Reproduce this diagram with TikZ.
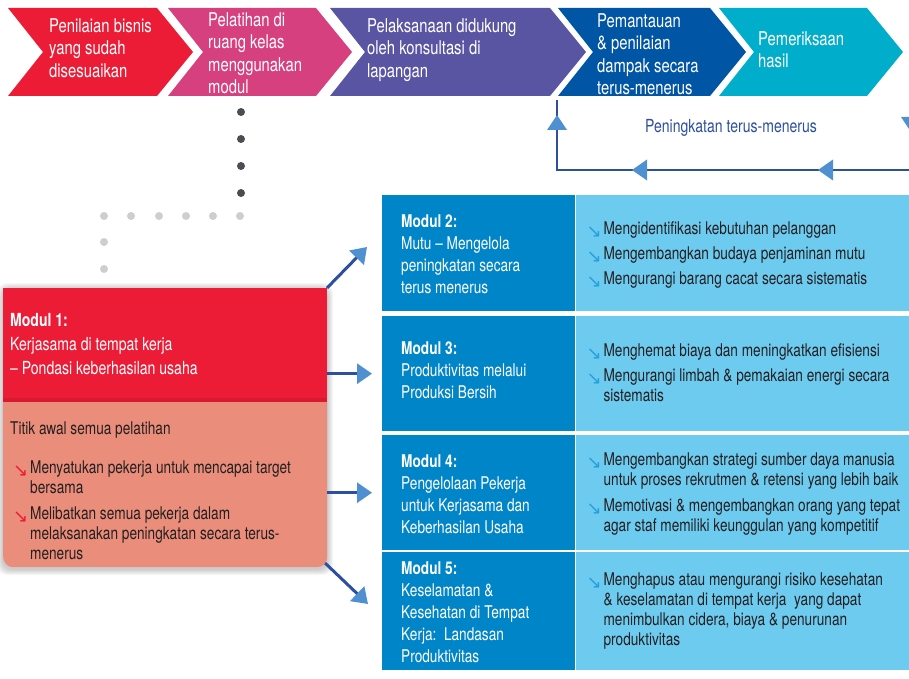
\documentclass[tikz,border=0pt]{standalone}
\usepackage{fontspec}
\setmainfont{TeX Gyre Heros}[FakeStretch=0.78]
\newfontfamily\arrowfont{DejaVu Sans}
\usepackage{tikz}
\usetikzlibrary{positioning, arrows.meta}

\definecolor{redA}{HTML}{ED1C36}
\definecolor{redshade}{HTML}{D71A31}
\definecolor{pinkB}{HTML}{D6407F}
\definecolor{purpleC}{HTML}{5A55A3}
\definecolor{navyD}{HTML}{0055A5}
\definecolor{tealE}{HTML}{00ADCA}
\definecolor{moddark}{HTML}{0085C8}
\definecolor{modlight}{HTML}{6DCBF0}
\definecolor{salmon}{HTML}{EA8E7B}
\definecolor{linkline}{HTML}{2C4F9F}
\definecolor{linktip}{HTML}{4F91D0}
\definecolor{dotdark}{HTML}{4A4D51}
\definecolor{dotgray}{HTML}{CDCED0}
\definecolor{textdark}{HTML}{231F20}
\definecolor{bulblue}{HTML}{25A0DC}

\newcommand{\itemarrow}[1]{\makebox[17pt][l]{\raisebox{-3pt}{\arrowfont\fontsize{18}{18}\selectfont\color{#1}↘}}}
\newcommand{\itemgap}{\makebox[17pt]{}}

\begin{document}
\begin{tikzpicture}
      [
        x=1pt, y=-1pt,
        chevtext/.style={anchor=north west, inner sep=0pt, align=left, text=white,
          font=\fontsize{19}{22.5}\selectfont},
        modbox/.style={anchor=north west, inner sep=0pt, fill=moddark, minimum width=193pt},
        infobox/.style={anchor=north west, inner sep=0pt, fill=modlight, minimum width=340pt},
        modtext/.style={inner sep=0pt, align=left, text=white,
          font=\fontsize{17.5}{22}\selectfont},
        bultext/.style={inner sep=0pt, align=left, text=textdark,
          font=\fontsize{17.5}{20}\selectfont},
        link/.style={line width=3pt, draw=linkline,
          -{Triangle[length=15pt, width=20pt, color=linktip]}},
        feed/.style={line width=2pt, draw=linkline},
        feedtip/.style={fill=linktip}
      ]
      \useasboundingbox (0,0) rectangle (909,679);
      % chevrons
      \foreach \l/\r/\c in {8/157/redA, 168/316/pinkB, 330/550/purpleC, 558/710/navyD, 719/867/tealE} {
          \fill[\c] (\l,8) -- (\r,8) -- (\r+36,52) -- (\r,96) -- (\l,96) -- (\l+35,52) -- cycle;
      }
      \node[chevtext] (c1) at (49,18)  {Penilaian bisnis\\yang sudah\\disesuaikan};
      \node[chevtext] (c2) at (208,12) {Pelatihan di\\ruang kelas\\menggunakan\\modul};
      \node[chevtext] (c3) at (367,18) {Pelaksanaan didukung\\oleh konsultasi di\\lapangan};
      \node[chevtext] (c4) at (597,13) {Pemantauan\\\& penilaian\\dampak secara\\terus-menerus};
      \node[chevtext] (c5) at (758,31) {Pemeriksaan\\hasil};
      % dots
      \foreach \y in {112,139,166,193} {
          \fill[dotdark] (241,\y) circle (4pt);
      }
      \foreach \x in {104,131,159,186,213,240} {
          \fill[dotgray] (\x,216) circle (4pt);
      }
      \foreach \y in {242,269} {
          \fill[dotgray] (104,\y) circle (4pt);
      }
      % feedback loop
      \coordinate (fb1) at (557,100);
      \coordinate (fb2) at (557,170);
      \coordinate (fb3) at (911,170);
      \coordinate (fb4) at (911,100);
      \draw[feed] (fb1) -- (fb2) -- (fb3) -- (fb4);
      \fill[feedtip] (557,115) -- ++(10,15) -- ++(-20,0) -- cycle;
      \fill[feedtip] (911,132) -- ++(10,-15) -- ++(-20,0) -- cycle;
      \foreach \x in {632,818} {
          \fill[feedtip] (\x,170) -- ++(15,-10.5) -- ++(0,21) -- cycle;
      }
      \node[text=linkline, font=\fontsize{18}{20}\selectfont] (fbl) at (731,128) {Peningkatan terus-menerus};
      % module boxes
      \foreach \n/\t/\h in {2/195/116, 3/316/115, 4/435/115, 5/552/118} {
          \node[modbox, minimum height=\h pt] (m\n) at (382,\t) {};
          \node[infobox, minimum height=\h pt] (p\n) at (m\n.north east) {};
      }
      % module 1
      \foreach \s in {1,...,6} {
          \fill[black, opacity=0.035, rounded corners=10pt] (3-\s,288-\s+1) rectangle (327+\s,567+\s+2);
      }
      \coordinate (m1nw) at (3,288);
      \draw[link] (m1nw) ++(324,0) -- ++(40,-41);
      \draw[link] (m1nw) ++(321,274) -- ++(44,42);
      \node[anchor=north west, inner sep=0pt, fill=salmon, rounded corners=10pt,
        minimum width=324pt, minimum height=279pt] (m1) at (m1nw) {};
      \node[anchor=north west, inner sep=0pt, fill=redA,
        minimum width=324pt, minimum height=114pt] (m1h) at (m1.north west) {};
      \fill[redshade] ([yshift=4pt]m1h.south west) rectangle (m1h.south east);
      \draw[link] (m1.east |- m3.west) -- ([xshift=-10pt]m3.west);
      \draw[link] (m1.east |- m4.west) -- ([xshift=-10pt]m4.west);
      % labels
      \node[modtext, font=\fontsize{18}{24}\selectfont, below right=25pt and 7pt of m1.north west] (m1t)
        {\textbf{Modul 1:}\\Kerjasama di tempat kerja\\-- Pondasi keberhasilan usaha};
      \node[bultext, below right=134pt and 7pt of m1.north west] (m1s) {Titik awal semua pelatihan};
      \node[bultext, below right=173pt and 10pt of m1.north west] (m1b)
        {\itemarrow{redA}Menyatukan pekerja untuk mencapai target\\\itemgap bersama\\[6pt]
         \itemarrow{redA}Melibatkan semua pekerja dalam\\\itemgap melaksanakan peningkatan secara terus-\\\itemgap menerus};
      \node[modtext, below right=20pt and 19pt of m2.north west] (m2t)
        {\textbf{Modul 2:}\\Mutu -- Mengelola\\peningkatan secara\\terus menerus};
      \node[modtext, below right=26pt and 19pt of m3.north west] (m3t)
        {\textbf{Modul 3:}\\Produktivitas melalui\\Produksi Bersih};
      \node[modtext, below right=20pt and 19pt of m4.north west] (m4t)
        {\textbf{Modul 4:}\\Pengelolaan Pekerja\\untuk Kerjasama dan\\Keberhasilan Usaha};
      \node[modtext, below right=10pt and 19pt of m5.north west] (m5t)
        {\textbf{Modul 5:}\\Keselamatan \&\\Kesehatan di Tempat\\Kerja:~~Landasan\\Produktivitas};
      \node[bultext, below right=26pt and 11pt of p2.north west] (b2)
        {\itemarrow{bulblue}Mengidentifikasi kebutuhan pelanggan\\[5pt]
         \itemarrow{bulblue}Mengembangkan budaya penjaminan mutu\\[5pt]
         \itemarrow{bulblue}Mengurangi barang cacat secara sistematis};
      \node[bultext, below right=27pt and 11pt of p3.north west] (b3)
        {\itemarrow{bulblue}Menghemat biaya dan meningkatkan efisiensi\\[5pt]
         \itemarrow{bulblue}Mengurangi limbah \& pemakaian energi secara\\\itemgap sistematis};
      \node[bultext, below right=18pt and 11pt of p4.north west] (b4)
        {\itemarrow{bulblue}Mengembangkan strategi sumber daya manusia\\\itemgap untuk proses rekrutmen \& retensi yang lebih baik\\[6pt]
         \itemarrow{bulblue}Memotivasi \& mengembangkan orang yang tepat\\\itemgap agar staf memiliki keunggulan yang kompetitif};
      \node[bultext, below right=21pt and 11pt of p5.north west] (b5)
        {\itemarrow{bulblue}Menghapus atau mengurangi risiko kesehatan\\\itemgap \& keselamatan di tempat kerja~ yang dapat\\\itemgap menimbulkan cidera, biaya \& penurunan\\\itemgap produktivitas};
    \end{tikzpicture}
\end{document}
